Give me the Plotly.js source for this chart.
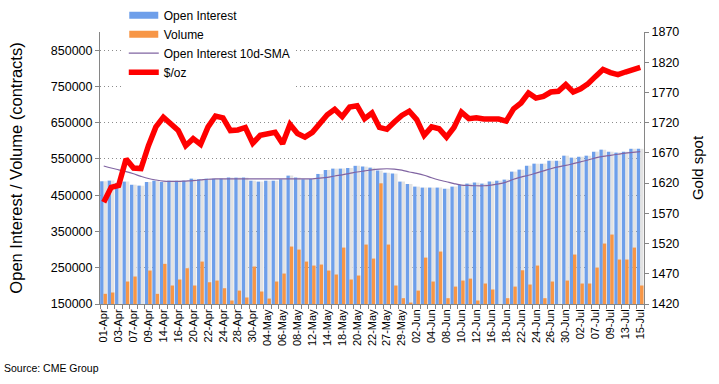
<!DOCTYPE html>
<html>
<head>
<meta charset="utf-8">
<script src="https://cdn.plot.ly/plotly-3.0.1.min.js"></script>
<style>
html,body{margin:0;padding:0;background:#fff;}
#chart{width:719px;height:384px;}
</style>
</head>
<body>
<div id="chart"></div>
<script>
// Trading days (category axis)
const dates = ["01-Apr","02-Apr","03-Apr","06-Apr","07-Apr","08-Apr","09-Apr","13-Apr","14-Apr","15-Apr",
"16-Apr","17-Apr","20-Apr","21-Apr","22-Apr","23-Apr","24-Apr","27-Apr","28-Apr","29-Apr",
"30-Apr","01-May","04-May","05-May","06-May","07-May","08-May","11-May","12-May","13-May",
"14-May","15-May","18-May","19-May","20-May","21-May","22-May","26-May","27-May","28-May",
"29-May","01-Jun","02-Jun","03-Jun","04-Jun","05-Jun","08-Jun","09-Jun","10-Jun","11-Jun",
"12-Jun","15-Jun","16-Jun","17-Jun","18-Jun","19-Jun","22-Jun","23-Jun","24-Jun","25-Jun",
"26-Jun","29-Jun","30-Jun","01-Jul","02-Jul","06-Jul","07-Jul","08-Jul","09-Jul","10-Jul",
"13-Jul","14-Jul","15-Jul"];

// Open interest (contracts)
const openInterest = [488400,490200,484000,487500,479000,476400,486500,490000,486500,490000,
490000,490000,495700,494000,495700,495700,495700,498500,498500,498500,
490000,487500,490000,490000,494000,504000,498500,494000,495000,508600,
519600,523300,523300,525000,531000,528800,526000,517800,512000,509500,
487500,481000,473700,471000,471000,471000,468000,473700,479000,482000,
484700,482000,487500,490000,493000,515000,520500,531500,537000,537000,
545000,545000,559000,553600,556000,559000,570000,575600,570000,567400,
570000,578000,578000];

// Volume (contracts)
const volume = [178100,181700,130000,212000,225800,130000,242300,178000,260700,201000,
217500,248600,201000,267000,210000,214700,193500,159600,187000,168000,
253300,184400,165000,212000,234000,308400,300000,267000,256000,258800,
242300,231300,305600,217500,228500,313900,275300,482800,313900,201000,
166000,154000,187000,278000,212000,294600,166000,198000,214700,220000,
159600,206500,190000,140000,166000,198000,243000,203700,256000,166000,
212000,140000,214700,286400,206500,206500,250500,316700,341500,272600,
272600,305600,201000];

// Open interest 10-day SMA
const oiSma = [530600,525000,520000,515000,509000,502000,496000,492000,489000,488000,
488000,489000,490000,492000,494000,495000,495000,495000,495000,495000,
495000,495000,495000,495000,495000,495000,495000,495000,495000,497000,
499000,503000,506000,510000,514000,517000,520000,522000,523000,522000,
519000,514000,510000,505000,498000,492000,487000,482000,478000,477000,
476000,476000,478000,481000,486000,494000,500000,505000,511000,517000,
523000,528000,532000,537000,542000,547000,553000,557000,560000,563000,
566000,568000,570000];

// Gold spot ($/oz)
const goldPrice = [1588.5,1613,1616,1660,1645,1644,1682,1713,1729,1719,
1707,1682,1693.5,1684,1713,1731,1728,1707,1708,1712,
1686,1699,1700.5,1704,1685,1717,1702,1696,1704,1718,
1733,1742,1730,1746,1748,1726.6,1736,1712,1709,1721,
1732,1739,1725,1699,1713,1710,1696,1712,1737.5,1726.6,
1728,1726,1725.5,1726,1722.6,1743,1752.5,1769,1760.7,1763.5,
1770.7,1772,1783,1770.7,1776,1784.5,1796.6,1808,1802.8,1799.5,
1803.8,1808.7,1811.5];

const idx = dates.map((d, i) => i);
const tickIdx = idx.filter(i => i % 2 === 0);
const tickLabels = tickIdx.map(i => dates[i]);

const FONT = "Liberation Sans, Arial, Helvetica, sans-serif";
const AXIS_GREY = "#868686";

const traces = [
  { // light grey half of the open interest column
    type: "bar", x: idx, y: openInterest, base: 0,
    offset: -0.03, width: 0.46,
    marker: { color: "#e3e3e3" },
    showlegend: false, hoverinfo: "skip", name: "oi-shade"
  },
  {
    type: "bar", name: "Open Interest", x: idx, y: openInterest,
    offset: -0.48, width: 0.45,
    marker: { color: "#6e9fea" }
  },
  {
    type: "bar", name: "Volume", x: idx, y: volume,
    offset: -0.03, width: 0.46,
    marker: { color: "#f79646" }
  },
  {
    type: "scatter", mode: "lines", name: "Open Interest 10d-SMA",
    x: idx, y: oiSma,
    line: { color: "#8064a2", width: 1.2, shape: "spline" }
  },
  {
    type: "scatter", mode: "lines", name: "$/oz",
    x: idx, y: goldPrice, yaxis: "y2",
    line: { color: "#ff0000", width: 5.5 }
  }
];

const layout = {
  width: 719, height: 384,
  margin: { l: 100, r: 75, t: 32, b: 80, pad: 0, autoexpand: false },
  paper_bgcolor: "#ffffff", plot_bgcolor: "#ffffff",
  font: { family: FONT, color: "#000000", size: 12 },
  barmode: "overlay",
  hovermode: false,
  showlegend: true,
  legend: {
    x: 0.0437, y: 1.115, xanchor: "left", yanchor: "top",
    bgcolor: "#ffffff", borderwidth: 0,
    font: { family: FONT, size: 12, color: "#000000" },
    traceorder: "normal", tracegroupgap: 0
  },
  xaxis: {
    type: "linear", range: [-0.5, 72.5],
    tickmode: "array", tickvals: tickIdx, ticktext: tickLabels,
    tickangle: -90, tickfont: { family: FONT, size: 11, color: "#000" },
    ticks: "", showgrid: false, zeroline: false,
    showline: true, linecolor: AXIS_GREY, linewidth: 1,
    minor: { ticks: "outside", tickmode: "linear", tick0: -0.5, dtick: 1, ticklen: 4, tickcolor: AXIS_GREY, showgrid: false }
  },
  yaxis: {
    range: [150000, 900000], tickmode: "linear", tick0: 150000, dtick: 100000,
    tickformat: "d",
    tickfont: { family: FONT, size: 12.5, color: "#000" },
    ticks: "outside", ticklen: 4, tickcolor: AXIS_GREY,
    showline: true, linecolor: AXIS_GREY, linewidth: 1,
    showgrid: true, gridcolor: "#8c8c8c", griddash: "1px,3px", gridwidth: 1,
    zeroline: false,
    title: { text: "Open Interest / Volume (contracts)", font: { family: FONT, size: 16.5, color: "#000" }, standoff: 24 }
  },
  yaxis2: {
    overlaying: "y", side: "right",
    range: [1420, 1870], tickmode: "linear", tick0: 1420, dtick: 50,
    tickfont: { family: FONT, size: 12.5, color: "#000" },
    ticks: "outside", ticklen: 4, tickcolor: AXIS_GREY,
    showline: true, linecolor: AXIS_GREY, linewidth: 1,
    showgrid: false, zeroline: false,
    title: { text: "Gold spot", font: { family: FONT, size: 15, color: "#000" }, standoff: 14 }
  },
  annotations: [
    {
      text: "Source: CME Group", xref: "paper", yref: "paper",
      x: -0.18, y: -0.2335, xanchor: "left", yanchor: "middle",
      showarrow: false, font: { family: FONT, size: 10.5, color: "#000" }
    }
  ]
};

function flattenLegendBars() {
  // Excel-style flat rectangles for the bar entries in the legend
  document.querySelectorAll("#chart .legend .legendpoints path").forEach(p => {
    const d = p.getAttribute("d") || "";
    if (d.replace(/\s/g, "") === "M6,6H-6V-6H6Z") {
      p.setAttribute("d", "M14.5,3.5H-14.5V-3.5H14.5Z");
    }
  });
}

Plotly.newPlot("chart", traces, layout, { staticPlot: true, displayModeBar: false }).then(gd => {
  flattenLegendBars();
  gd.on && gd.on("plotly_afterplot", flattenLegendBars);
  setTimeout(flattenLegendBars, 50);
});
</script>
</body>
</html>
